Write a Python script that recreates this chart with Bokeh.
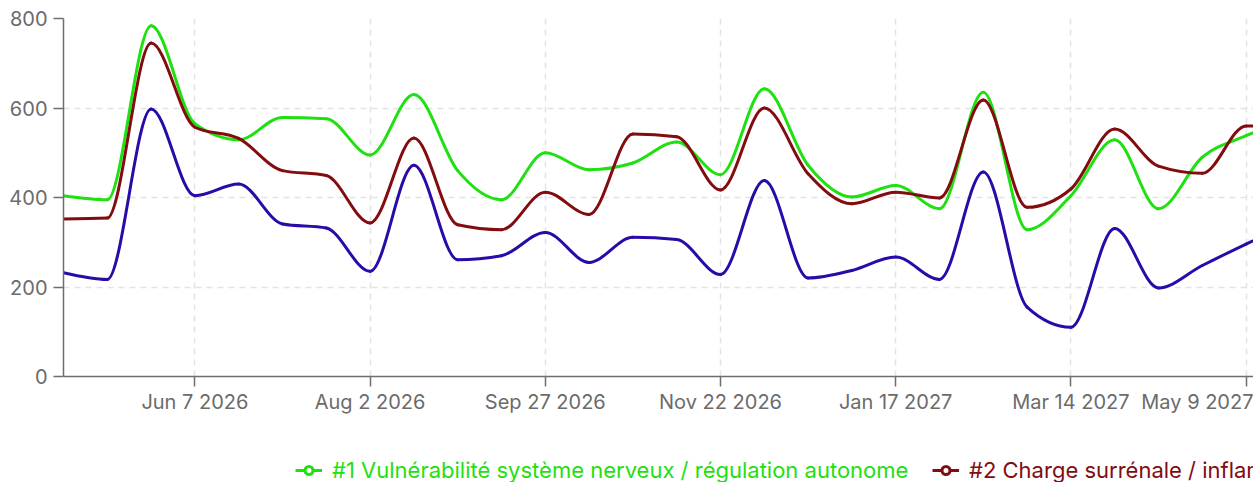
import numpy as np
from datetime import datetime
from bokeh.plotting import figure
from bokeh.layouts import column
from bokeh.models import ColumnDataSource, Legend, LegendItem, FixedTicker, Range1d
from bokeh.embed import file_html
from bokeh.resources import INLINE

# ---------------- data ----------------
start_date = datetime(2026, 4, 26)
step_days = 14

name_1 = "#1 Vulnérabilité système nerveux / régulation autonome"
name_2 = "#2 Charge surrénale / inflammation"

series_1 = [404, 395, 784, 565, 529, 579, 576, 495, 630, 460, 395, 500, 462, 477, 524,
            451, 643, 472, 401, 427, 375, 635, 328, 404, 529, 375, 490, 538, 575]
series_2 = [352, 354, 745, 557, 532, 460, 449, 343, 533, 339, 328, 412, 362, 542, 536,
            417, 600, 453, 386, 412, 399, 618, 378, 419, 553, 470, 454, 560, 558]
series_3 = [232, 217, 598, 404, 430, 341, 332, 235, 472, 261, 270, 322, 255, 311, 306,
            228, 438, 220, 237, 267, 217, 457, 155, 110, 331, 198, 248, 296, 340]

color_1 = "#1fe010"
color_2 = "#820c10"
color_3 = "#2a0aa8"

tick_dates = ["2026-06-07", "2026-08-02", "2026-09-27", "2026-11-22",
              "2027-01-17", "2027-03-14", "2027-05-09"]
tick_labels = ["Jun 7 2026", "Aug 2 2026", "Sep 27 2026", "Nov 22 2026",
               "Jan 17 2027", "Mar 14 2027", "May 9 2027"]
y_ticks = [0, 200, 400, 600, 800]

# ---------------- helpers ----------------
EPOCH = datetime(1970, 1, 1)
def to_ms(d):
    return (d - EPOCH).total_seconds() * 1000.0

DAY_MS = 86400000.0
x0_ms = to_ms(start_date)
step_ms = step_days * DAY_MS

def monotone_tangents(y):
    y = np.asarray(y, dtype=float)
    n = len(y)
    t = np.zeros(n)
    s = np.diff(y)
    for i in range(1, n - 1):
        s0, s1 = s[i - 1], s[i]
        pm = 0.5 * (s0 + s1)
        t[i] = (np.sign(s0) + np.sign(s1)) * min(abs(s0), abs(s1), 0.5 * abs(pm))
    t[0] = (3 * s[0] - t[1]) / 2
    t[-1] = (3 * s[-1] - t[-2]) / 2
    return t

def bezier_source(y):
    y = np.asarray(y, dtype=float)
    t = monotone_tangents(y)
    n = len(y)
    idx = np.arange(n - 1)
    xs0 = x0_ms + idx * step_ms
    xs1 = xs0 + step_ms
    return ColumnDataSource(dict(
        x0=xs0, y0=y[:-1], x1=xs1, y1=y[1:],
        cx0=xs0 + step_ms / 3, cy0=y[:-1] + t[:-1] / 3,
        cx1=xs1 - step_ms / 3, cy1=y[1:] - t[1:] / 3,
    ))

# ---------------- main figure ----------------
W = 1253
LEFT = 63
px_per_day = 175.2 / 56.0
frame_w = W - LEFT
x_end = x0_ms + frame_w / px_per_day * DAY_MS

p = figure(width=W, height=440, x_axis_type="datetime",
           x_range=Range1d(x0_ms, x_end), y_range=Range1d(0, 800),
           output_backend="svg", toolbar_location=None,
           min_border_left=LEFT, min_border_right=0,
           min_border_top=18, min_border_bottom=64)
p.outline_line_color = None
p.background_fill_color = "white"
p.border_fill_color = "white"

FONT = "Inter"
for ax in (p.xaxis[0], p.yaxis[0]):
    ax.axis_line_color = "#6e6e6e"
    ax.axis_line_width = 1.5
    ax.major_tick_line_color = "#6e6e6e"
    ax.major_tick_line_width = 1.5
    ax.major_tick_out = 10
    ax.major_tick_in = 0
    ax.minor_tick_line_color = None
    ax.major_label_text_font = FONT
    ax.major_label_text_font_size = "20px"
    ax.major_label_text_color = "#6b6b6b"
p.xaxis.major_label_standoff = 3
p.yaxis.major_label_standoff = 6

tick_ms = [to_ms(datetime.strptime(d, "%Y-%m-%d")) for d in tick_dates]
p.xaxis.ticker = FixedTicker(ticks=tick_ms)
p.xaxis.major_label_overrides = {m: lab for m, lab in zip(tick_ms, tick_labels)}
p.yaxis.ticker = FixedTicker(ticks=y_ticks)

for g in (p.xgrid[0], p.ygrid[0]):
    g.grid_line_color = "#e3e3e3"
    g.grid_line_dash = "6 5"
    g.grid_line_width = 1.5

for ys, col in ((series_1, color_1), (series_2, color_2), (series_3, color_3)):
    p.bezier(x0="x0", y0="y0", x1="x1", y1="y1", cx0="cx0", cy0="cy0",
             cx1="cx1", cy1="cy1", source=bezier_source(ys),
             line_color=col, line_width=3, line_cap="round")

# ---------------- legend strip ----------------
lf = figure(width=W, height=42, x_range=Range1d(0, 1), y_range=Range1d(0, 1),
            output_backend="svg", toolbar_location=None,
            x_axis_location=None, y_axis_location=None,
            min_border_left=LEFT, min_border_right=0,
            min_border_top=0, min_border_bottom=0)
lf.outline_line_color = None
lf.xgrid.visible = False
lf.ygrid.visible = False

def legend_for(name, col, page_x):
    dummy = ColumnDataSource(dict(x=[np.nan], y=[np.nan]))
    ln = lf.line("x", "y", source=dummy, line_color=col, line_width=3)
    sc = lf.scatter("x", "y", source=dummy, marker="circle", size=10,
                    line_color=col, line_width=3, fill_color="white")
    lg = Legend(items=[LegendItem(label=name, renderers=[ln, sc])],
                location=(page_x - LEFT, -1), orientation="horizontal",
                glyph_width=27, glyph_height=20, label_height=20,
                label_standoff=10, padding=0, margin=0,
                border_line_color=None, background_fill_alpha=0,
                label_text_font=FONT, label_text_font_size="22px",
                label_text_color=col)
    lf.add_layout(lg, "center")

legend_for(name_1, color_1, 295)
legend_for(name_2, color_2, 932)

layout = column(p, lf, spacing=0)
open("out.html", "w").write(file_html(layout, INLINE))
